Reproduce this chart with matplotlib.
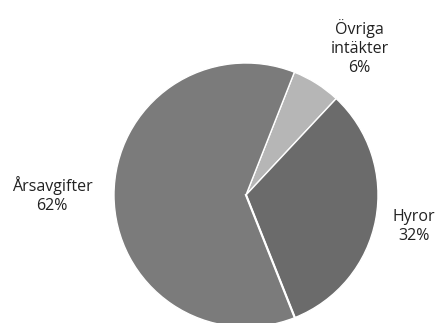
import numpy as np
import matplotlib.pyplot as plt

plt.rcParams['font.family'] = ['Open Sans', 'DejaVu Sans']

labels = ["Övriga\nintäkter", "Hyror", "Årsavgifter"]
values = [6, 32, 62]
colors = ["#b6b6b6", "#6b6b6b", "#7b7b7b"]

fig = plt.figure(figsize=(4.37, 3.23), dpi=100)
ax = fig.add_axes([0, 0, 1, 1])

wedges, _ = ax.pie(values, colors=colors, startangle=68.5, counterclock=False,
                   wedgeprops=dict(edgecolor="white", linewidth=1.0))
# white dividing line between Hyror and Årsavgifter
ang = np.deg2rad(68.5 - 360 * (values[0] + values[1]) / sum(values))
ax.plot([0, np.cos(ang)], [0, np.sin(ang)], color="white", lw=1.6)

# label positions (data units, radius = 1)
pos = [(0.86, 1.12), (1.27, -0.235), (-1.47, 0.0)]
for lab, v, (x, y) in zip(labels, values, pos):
    ax.text(x, y, f"{lab}\n{v}%", ha="center", va="center", fontsize=11.5,
            color="#222222", linespacing=1.25)

ax.set_xlim(-246 / 132, (437 - 246) / 132)
ax.set_ylim(-(323 - 195) / 132, 195 / 132)
ax.set_aspect("auto")
ax.axis("off")

fig.savefig("out.png", dpi=100)
